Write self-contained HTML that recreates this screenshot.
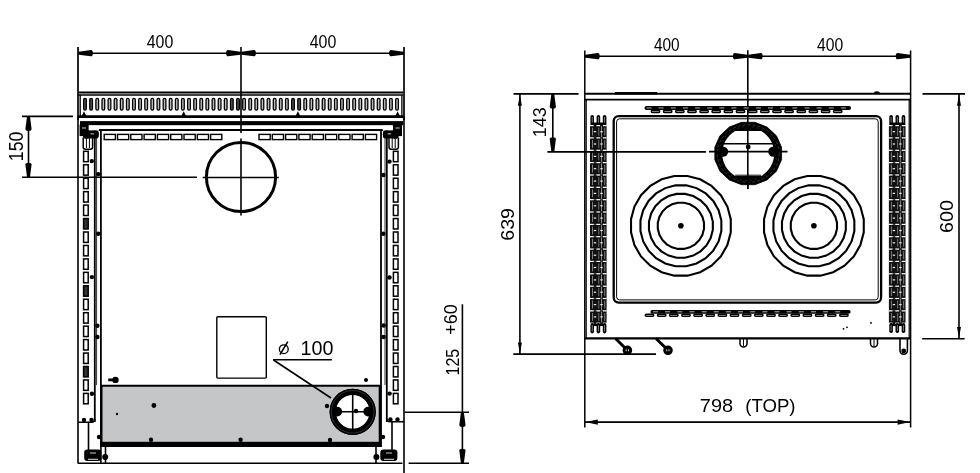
<!DOCTYPE html>
<html><head><meta charset="utf-8"><style>
html,body{margin:0;padding:0;background:#fff;}
body{width:980px;height:473px;overflow:hidden;}
svg{display:block;will-change:transform;}
text{font-family:"Liberation Sans",sans-serif;fill:#000;}
</style></head><body>
<svg width="980" height="473" viewBox="0 0 980 473">
<rect width="980" height="473" fill="#fff"/>
<line x1="78" y1="47" x2="78" y2="120" stroke="#000" stroke-width="1.7"/>
<line x1="241" y1="47" x2="241" y2="133" stroke="#000" stroke-width="1.6"/>
<line x1="404" y1="47" x2="404" y2="120" stroke="#000" stroke-width="1.7"/>
<line x1="78" y1="53.2" x2="404" y2="53.2" stroke="#000" stroke-width="1.6"/>
<path d="M78.5,51.7 L91.0,50.1 A1.8599999999999999,3.1 0 0 1 91.0,56.300000000000004 L78.5,54.7 Z" fill="#000"/>
<path d="M240.5,51.7 L228.0,50.1 A1.8599999999999999,3.1 0 0 0 228.0,56.300000000000004 L240.5,54.7 Z" fill="#000"/>
<path d="M241.5,51.7 L254.0,50.1 A1.8599999999999999,3.1 0 0 1 254.0,56.300000000000004 L241.5,54.7 Z" fill="#000"/>
<path d="M403.5,51.7 L391.0,50.1 A1.8599999999999999,3.1 0 0 0 391.0,56.300000000000004 L403.5,54.7 Z" fill="#000"/>
<text x="146.7" y="47.7" font-size="19" textLength="26.6" lengthAdjust="spacingAndGlyphs">400</text>
<text x="309.7" y="47.7" font-size="19" textLength="26.6" lengthAdjust="spacingAndGlyphs">400</text>
<line x1="22" y1="116.4" x2="73" y2="116.4" stroke="#000" stroke-width="1.6"/>
<line x1="22" y1="177.2" x2="197" y2="177.2" stroke="#000" stroke-width="1.6"/>
<line x1="28.5" y1="116.4" x2="28.5" y2="177.2" stroke="#000" stroke-width="1.6"/>
<path d="M27.0,116.6 L25.4,129.1 A3.1,1.8599999999999999 0 0 0 31.6,129.1 L30.0,116.6 Z" fill="#000"/>
<path d="M27.0,177 L25.4,164.5 A3.1,1.8599999999999999 0 0 1 31.6,164.5 L30.0,177 Z" fill="#000"/>
<text x="23.0" y="161.2" font-size="20.5" textLength="29.5" lengthAdjust="spacingAndGlyphs" transform="rotate(-90 23.0 161.2)">150</text>
<line x1="78" y1="92.45" x2="403" y2="92.45" stroke="#000" stroke-width="1.9"/>
<line x1="78" y1="95" x2="403" y2="95" stroke="#000" stroke-width="1.6"/>
<line x1="80.2" y1="95" x2="80.2" y2="116" stroke="#000" stroke-width="1.3"/>
<line x1="401.9" y1="95" x2="401.9" y2="116" stroke="#000" stroke-width="1.3"/>
<rect x="83.65" y="98.4" width="2.7" height="11.8" rx="1.35" fill="#555" stroke="#000" stroke-width="1.3"/>
<rect x="89.77" y="98.4" width="2.7" height="11.8" rx="1.35" fill="#555" stroke="#000" stroke-width="1.3"/>
<rect x="95.89" y="98.4" width="2.7" height="11.8" rx="1.35" fill="#bbb" stroke="#000" stroke-width="1.3"/>
<rect x="102.00" y="98.4" width="2.7" height="11.8" rx="1.35" fill="#bbb" stroke="#000" stroke-width="1.3"/>
<rect x="108.12" y="98.4" width="2.7" height="11.8" rx="1.35" fill="#bbb" stroke="#000" stroke-width="1.3"/>
<rect x="114.24" y="98.4" width="2.7" height="11.8" rx="1.35" fill="#bbb" stroke="#000" stroke-width="1.3"/>
<rect x="120.36" y="98.4" width="2.7" height="11.8" rx="1.35" fill="#bbb" stroke="#000" stroke-width="1.3"/>
<rect x="126.48" y="98.4" width="2.7" height="11.8" rx="1.35" fill="#bbb" stroke="#000" stroke-width="1.3"/>
<rect x="132.59" y="98.4" width="2.7" height="11.8" rx="1.35" fill="#bbb" stroke="#000" stroke-width="1.3"/>
<rect x="138.71" y="98.4" width="2.7" height="11.8" rx="1.35" fill="#bbb" stroke="#000" stroke-width="1.3"/>
<rect x="144.83" y="98.4" width="2.7" height="11.8" rx="1.35" fill="#bbb" stroke="#000" stroke-width="1.3"/>
<rect x="150.95" y="98.4" width="2.7" height="11.8" rx="1.35" fill="#bbb" stroke="#000" stroke-width="1.3"/>
<rect x="157.07" y="98.4" width="2.7" height="11.8" rx="1.35" fill="#bbb" stroke="#000" stroke-width="1.3"/>
<rect x="163.18" y="98.4" width="2.7" height="11.8" rx="1.35" fill="#bbb" stroke="#000" stroke-width="1.3"/>
<rect x="169.30" y="98.4" width="2.7" height="11.8" rx="1.35" fill="#bbb" stroke="#000" stroke-width="1.3"/>
<rect x="175.42" y="98.4" width="2.7" height="11.8" rx="1.35" fill="#bbb" stroke="#000" stroke-width="1.3"/>
<rect x="181.54" y="98.4" width="2.7" height="11.8" rx="1.35" fill="#bbb" stroke="#000" stroke-width="1.3"/>
<rect x="187.66" y="98.4" width="2.7" height="11.8" rx="1.35" fill="#bbb" stroke="#000" stroke-width="1.3"/>
<rect x="193.77" y="98.4" width="2.7" height="11.8" rx="1.35" fill="#bbb" stroke="#000" stroke-width="1.3"/>
<rect x="199.89" y="98.4" width="2.7" height="11.8" rx="1.35" fill="#bbb" stroke="#000" stroke-width="1.3"/>
<rect x="206.01" y="98.4" width="2.7" height="11.8" rx="1.35" fill="#bbb" stroke="#000" stroke-width="1.3"/>
<rect x="212.13" y="98.4" width="2.7" height="11.8" rx="1.35" fill="#bbb" stroke="#000" stroke-width="1.3"/>
<rect x="218.25" y="98.4" width="2.7" height="11.8" rx="1.35" fill="#bbb" stroke="#000" stroke-width="1.3"/>
<rect x="224.36" y="98.4" width="2.7" height="11.8" rx="1.35" fill="#bbb" stroke="#000" stroke-width="1.3"/>
<rect x="230.48" y="98.4" width="2.7" height="11.8" rx="1.35" fill="#555" stroke="#000" stroke-width="1.3"/>
<rect x="236.60" y="98.4" width="2.7" height="11.8" rx="1.35" fill="#555" stroke="#000" stroke-width="1.3"/>
<rect x="242.72" y="98.4" width="2.7" height="11.8" rx="1.35" fill="#bbb" stroke="#000" stroke-width="1.3"/>
<rect x="248.84" y="98.4" width="2.7" height="11.8" rx="1.35" fill="#bbb" stroke="#000" stroke-width="1.3"/>
<rect x="254.95" y="98.4" width="2.7" height="11.8" rx="1.35" fill="#bbb" stroke="#000" stroke-width="1.3"/>
<rect x="261.07" y="98.4" width="2.7" height="11.8" rx="1.35" fill="#bbb" stroke="#000" stroke-width="1.3"/>
<rect x="267.19" y="98.4" width="2.7" height="11.8" rx="1.35" fill="#bbb" stroke="#000" stroke-width="1.3"/>
<rect x="273.31" y="98.4" width="2.7" height="11.8" rx="1.35" fill="#bbb" stroke="#000" stroke-width="1.3"/>
<rect x="279.43" y="98.4" width="2.7" height="11.8" rx="1.35" fill="#bbb" stroke="#000" stroke-width="1.3"/>
<rect x="285.54" y="98.4" width="2.7" height="11.8" rx="1.35" fill="#bbb" stroke="#000" stroke-width="1.3"/>
<rect x="291.66" y="98.4" width="2.7" height="11.8" rx="1.35" fill="#555" stroke="#000" stroke-width="1.3"/>
<rect x="297.78" y="98.4" width="2.7" height="11.8" rx="1.35" fill="#555" stroke="#000" stroke-width="1.3"/>
<rect x="303.90" y="98.4" width="2.7" height="11.8" rx="1.35" fill="#bbb" stroke="#000" stroke-width="1.3"/>
<rect x="310.02" y="98.4" width="2.7" height="11.8" rx="1.35" fill="#bbb" stroke="#000" stroke-width="1.3"/>
<rect x="316.13" y="98.4" width="2.7" height="11.8" rx="1.35" fill="#bbb" stroke="#000" stroke-width="1.3"/>
<rect x="322.25" y="98.4" width="2.7" height="11.8" rx="1.35" fill="#bbb" stroke="#000" stroke-width="1.3"/>
<rect x="328.37" y="98.4" width="2.7" height="11.8" rx="1.35" fill="#bbb" stroke="#000" stroke-width="1.3"/>
<rect x="334.49" y="98.4" width="2.7" height="11.8" rx="1.35" fill="#bbb" stroke="#000" stroke-width="1.3"/>
<rect x="340.61" y="98.4" width="2.7" height="11.8" rx="1.35" fill="#bbb" stroke="#000" stroke-width="1.3"/>
<rect x="346.72" y="98.4" width="2.7" height="11.8" rx="1.35" fill="#bbb" stroke="#000" stroke-width="1.3"/>
<rect x="352.84" y="98.4" width="2.7" height="11.8" rx="1.35" fill="#bbb" stroke="#000" stroke-width="1.3"/>
<rect x="358.96" y="98.4" width="2.7" height="11.8" rx="1.35" fill="#bbb" stroke="#000" stroke-width="1.3"/>
<rect x="365.08" y="98.4" width="2.7" height="11.8" rx="1.35" fill="#bbb" stroke="#000" stroke-width="1.3"/>
<rect x="371.20" y="98.4" width="2.7" height="11.8" rx="1.35" fill="#bbb" stroke="#000" stroke-width="1.3"/>
<rect x="377.31" y="98.4" width="2.7" height="11.8" rx="1.35" fill="#bbb" stroke="#000" stroke-width="1.3"/>
<rect x="383.43" y="98.4" width="2.7" height="11.8" rx="1.35" fill="#bbb" stroke="#000" stroke-width="1.3"/>
<rect x="389.55" y="98.4" width="2.7" height="11.8" rx="1.35" fill="#bbb" stroke="#000" stroke-width="1.3"/>
<rect x="395.67" y="98.4" width="2.7" height="11.8" rx="1.35" fill="#bbb" stroke="#000" stroke-width="1.3"/>
<line x1="78" y1="116.6" x2="403" y2="116.6" stroke="#000" stroke-width="2.8"/>
<rect x="80" y="121.1" width="323" height="4.1" fill="#000" rx="0"/>
<line x1="98.6" y1="130" x2="383" y2="130" stroke="#000" stroke-width="2.2"/>
<rect x="104.2" y="134.4" width="11.2" height="5.2" fill="none" stroke="#000" stroke-width="1.4" rx="0"/>
<rect x="259.0" y="134.4" width="11.2" height="5.2" fill="none" stroke="#000" stroke-width="1.4" rx="0"/>
<rect x="117.5" y="134.4" width="11.2" height="5.2" fill="none" stroke="#000" stroke-width="1.4" rx="0"/>
<rect x="272.3" y="134.4" width="11.2" height="5.2" fill="none" stroke="#000" stroke-width="1.4" rx="0"/>
<rect x="130.8" y="134.4" width="11.2" height="5.2" fill="none" stroke="#000" stroke-width="1.4" rx="0"/>
<rect x="285.6" y="134.4" width="11.2" height="5.2" fill="none" stroke="#000" stroke-width="1.4" rx="0"/>
<rect x="144.10000000000002" y="134.4" width="11.2" height="5.2" fill="none" stroke="#000" stroke-width="1.4" rx="0"/>
<rect x="298.9" y="134.4" width="11.2" height="5.2" fill="none" stroke="#000" stroke-width="1.4" rx="0"/>
<rect x="157.4" y="134.4" width="11.2" height="5.2" fill="none" stroke="#000" stroke-width="1.4" rx="0"/>
<rect x="312.2" y="134.4" width="11.2" height="5.2" fill="none" stroke="#000" stroke-width="1.4" rx="0"/>
<rect x="170.7" y="134.4" width="11.2" height="5.2" fill="none" stroke="#000" stroke-width="1.4" rx="0"/>
<rect x="325.5" y="134.4" width="11.2" height="5.2" fill="none" stroke="#000" stroke-width="1.4" rx="0"/>
<rect x="184.0" y="134.4" width="11.2" height="5.2" fill="none" stroke="#000" stroke-width="1.4" rx="0"/>
<rect x="338.8" y="134.4" width="11.2" height="5.2" fill="none" stroke="#000" stroke-width="1.4" rx="0"/>
<rect x="197.3" y="134.4" width="11.2" height="5.2" fill="none" stroke="#000" stroke-width="1.4" rx="0"/>
<rect x="352.1" y="134.4" width="11.2" height="5.2" fill="none" stroke="#000" stroke-width="1.4" rx="0"/>
<rect x="210.60000000000002" y="134.4" width="11.2" height="5.2" fill="none" stroke="#000" stroke-width="1.4" rx="0"/>
<rect x="365.4" y="134.4" width="11.2" height="5.2" fill="none" stroke="#000" stroke-width="1.4" rx="0"/>
<polygon points="81.4,116.5 84,111.3 86.6,116.5" fill="#000"/>
<polygon points="181.1,116.5 183.7,111.3 186.29999999999998,116.5" fill="#000"/>
<polygon points="295.29999999999995,116.5 297.9,111.3 300.5,116.5" fill="#000"/>
<polygon points="395.0,116.5 397.6,111.3 400.20000000000005,116.5" fill="#000"/>
<line x1="78" y1="116" x2="78" y2="463.5" stroke="#000" stroke-width="1.6"/>
<line x1="404" y1="116" x2="404" y2="473" stroke="#000" stroke-width="1.6"/>
<line x1="94.8" y1="130" x2="94.8" y2="422" stroke="#000" stroke-width="1.8"/>
<line x1="100.9" y1="130" x2="100.9" y2="447" stroke="#000" stroke-width="1.8"/>
<line x1="381" y1="130" x2="381" y2="447" stroke="#000" stroke-width="1.8"/>
<line x1="386.8" y1="130" x2="386.8" y2="422" stroke="#000" stroke-width="1.8"/>
<path d="M78,422.3 L91.5,422.3 Q94.8,422.3 94.8,419" fill="none" stroke="#000" stroke-width="1.6"/>
<path d="M404,421.8 L390.5,421.8 Q386.8,421.8 386.8,418.5" fill="none" stroke="#000" stroke-width="1.6"/>
<rect x="83.6" y="151.29999999999998" width="4.6" height="10.4" fill="#fff" stroke="#000" stroke-width="1.5" rx="0"/>
<rect x="393.4" y="151.29999999999998" width="4.6" height="10.4" fill="#fff" stroke="#000" stroke-width="1.5" rx="0"/>
<rect x="83.6" y="164.74999999999997" width="4.6" height="10.4" fill="#fff" stroke="#000" stroke-width="1.5" rx="0"/>
<rect x="393.4" y="164.74999999999997" width="4.6" height="10.4" fill="#fff" stroke="#000" stroke-width="1.5" rx="0"/>
<rect x="83.6" y="178.2" width="4.6" height="10.4" fill="#fff" stroke="#000" stroke-width="1.5" rx="0"/>
<rect x="393.4" y="178.2" width="4.6" height="10.4" fill="#fff" stroke="#000" stroke-width="1.5" rx="0"/>
<rect x="83.6" y="191.64999999999998" width="4.6" height="10.4" fill="#fff" stroke="#000" stroke-width="1.5" rx="0"/>
<rect x="393.4" y="191.64999999999998" width="4.6" height="10.4" fill="#fff" stroke="#000" stroke-width="1.5" rx="0"/>
<rect x="83.6" y="205.09999999999997" width="4.6" height="10.4" fill="#fff" stroke="#000" stroke-width="1.5" rx="0"/>
<rect x="393.4" y="205.09999999999997" width="4.6" height="10.4" fill="#fff" stroke="#000" stroke-width="1.5" rx="0"/>
<rect x="83.6" y="218.54999999999998" width="4.6" height="10.4" fill="#333" stroke="#000" stroke-width="1.5" rx="0"/>
<rect x="393.4" y="218.54999999999998" width="4.6" height="10.4" fill="#fff" stroke="#000" stroke-width="1.5" rx="0"/>
<rect x="83.6" y="231.99999999999997" width="4.6" height="10.4" fill="#fff" stroke="#000" stroke-width="1.5" rx="0"/>
<rect x="393.4" y="231.99999999999997" width="4.6" height="10.4" fill="#fff" stroke="#000" stroke-width="1.5" rx="0"/>
<rect x="83.6" y="245.45" width="4.6" height="10.4" fill="#fff" stroke="#000" stroke-width="1.5" rx="0"/>
<rect x="393.4" y="245.45" width="4.6" height="10.4" fill="#fff" stroke="#000" stroke-width="1.5" rx="0"/>
<rect x="83.6" y="258.9" width="4.6" height="10.4" fill="#fff" stroke="#000" stroke-width="1.5" rx="0"/>
<rect x="393.4" y="258.9" width="4.6" height="10.4" fill="#fff" stroke="#000" stroke-width="1.5" rx="0"/>
<rect x="83.6" y="272.34999999999997" width="4.6" height="10.4" fill="#fff" stroke="#000" stroke-width="1.5" rx="0"/>
<rect x="393.4" y="272.34999999999997" width="4.6" height="10.4" fill="#fff" stroke="#000" stroke-width="1.5" rx="0"/>
<rect x="83.6" y="285.8" width="4.6" height="10.4" fill="#333" stroke="#000" stroke-width="1.5" rx="0"/>
<rect x="393.4" y="285.8" width="4.6" height="10.4" fill="#fff" stroke="#000" stroke-width="1.5" rx="0"/>
<rect x="83.6" y="299.24999999999994" width="4.6" height="10.4" fill="#fff" stroke="#000" stroke-width="1.5" rx="0"/>
<rect x="393.4" y="299.24999999999994" width="4.6" height="10.4" fill="#fff" stroke="#000" stroke-width="1.5" rx="0"/>
<rect x="83.6" y="312.7" width="4.6" height="10.4" fill="#fff" stroke="#000" stroke-width="1.5" rx="0"/>
<rect x="393.4" y="312.7" width="4.6" height="10.4" fill="#fff" stroke="#000" stroke-width="1.5" rx="0"/>
<rect x="83.6" y="326.15" width="4.6" height="10.4" fill="#fff" stroke="#000" stroke-width="1.5" rx="0"/>
<rect x="393.4" y="326.15" width="4.6" height="10.4" fill="#fff" stroke="#000" stroke-width="1.5" rx="0"/>
<rect x="83.6" y="339.59999999999997" width="4.6" height="10.4" fill="#fff" stroke="#000" stroke-width="1.5" rx="0"/>
<rect x="393.4" y="339.59999999999997" width="4.6" height="10.4" fill="#fff" stroke="#000" stroke-width="1.5" rx="0"/>
<rect x="83.6" y="353.05" width="4.6" height="10.4" fill="#fff" stroke="#000" stroke-width="1.5" rx="0"/>
<rect x="393.4" y="353.05" width="4.6" height="10.4" fill="#fff" stroke="#000" stroke-width="1.5" rx="0"/>
<rect x="83.6" y="366.49999999999994" width="4.6" height="10.4" fill="#333" stroke="#000" stroke-width="1.5" rx="0"/>
<rect x="393.4" y="366.49999999999994" width="4.6" height="10.4" fill="#fff" stroke="#000" stroke-width="1.5" rx="0"/>
<rect x="83.6" y="379.95" width="4.6" height="10.4" fill="#fff" stroke="#000" stroke-width="1.5" rx="0"/>
<rect x="393.4" y="379.95" width="4.6" height="10.4" fill="#fff" stroke="#000" stroke-width="1.5" rx="0"/>
<rect x="83.6" y="393.4" width="4.6" height="10.4" fill="#fff" stroke="#000" stroke-width="1.5" rx="0"/>
<rect x="393.4" y="393.4" width="4.6" height="10.4" fill="#fff" stroke="#000" stroke-width="1.5" rx="0"/>
<path d="M83.2,137.4 L83.2,147 Q83.2,149.2 85.4,149.2 L90.4,149.2 Q92.60000000000001,149.2 92.60000000000001,147 L92.60000000000001,137.4" fill="#fff" stroke="#000" stroke-width="1.5"/>
<line x1="86.4" y1="138" x2="86.4" y2="148" stroke="#000" stroke-width="1.0"/>
<line x1="89.4" y1="138" x2="89.4" y2="148" stroke="#000" stroke-width="1.0"/>
<path d="M389.0,137.4 L389.0,147 Q389.0,149.2 391.2,149.2 L396.2,149.2 Q398.4,149.2 398.4,147 L398.4,137.4" fill="#fff" stroke="#000" stroke-width="1.5"/>
<line x1="392.2" y1="138" x2="392.2" y2="148" stroke="#000" stroke-width="1.0"/>
<line x1="395.2" y1="138" x2="395.2" y2="148" stroke="#000" stroke-width="1.0"/>
<line x1="96.6" y1="132" x2="96.6" y2="385" stroke="#000" stroke-width="0.8"/>
<line x1="385.0" y1="132" x2="385.0" y2="385" stroke="#000" stroke-width="0.8"/>
<rect x="79.6" y="124.6" width="9.200000000000003" height="11.5" fill="#000" rx="0"/>
<rect x="83.0" y="130.2" width="15.599999999999994" height="8.2" fill="#000" rx="2"/>
<rect x="88.8" y="125.6" width="10.100000000000009" height="4.6" fill="#fff" rx="0"/>
<circle cx="86.5" cy="135.5" r="3.2" fill="#000"/>
<circle cx="96.5" cy="134.5" r="2.4" fill="#000"/>
<rect x="82" y="127.6" width="4" height="0.8" fill="#fff" rx="0"/>
<rect x="90.5" y="133.5" width="3.5" height="0.8" fill="#fff" rx="0"/>
<rect x="392.8" y="124.6" width="9.199999999999989" height="11.5" fill="#000" rx="0"/>
<rect x="383.0" y="130.2" width="15.600000000000023" height="8.2" fill="#000" rx="2"/>
<rect x="382.70000000000005" y="125.6" width="10.099999999999966" height="4.6" fill="#fff" rx="0"/>
<circle cx="395.1" cy="135.5" r="3.2" fill="#000"/>
<circle cx="385.1" cy="134.5" r="2.4" fill="#000"/>
<rect x="395.6" y="127.6" width="4.0" height="0.8" fill="#fff" rx="0"/>
<rect x="387.6" y="133.5" width="3.5" height="0.8" fill="#fff" rx="0"/>
<circle cx="91.8" cy="161.1" r="2.2" fill="#000"/>
<circle cx="98.2" cy="174.1" r="2.2" fill="#000"/>
<circle cx="98.2" cy="233.7" r="2.2" fill="#000"/>
<circle cx="91.9" cy="277.1" r="2.2" fill="#000"/>
<circle cx="97.4" cy="325.7" r="2.2" fill="#000"/>
<circle cx="97.4" cy="337" r="2.2" fill="#000"/>
<circle cx="91.9" cy="393.8" r="2.2" fill="#000"/>
<circle cx="389.5" cy="161.6" r="2.2" fill="#000"/>
<circle cx="383.4" cy="175" r="2.2" fill="#000"/>
<circle cx="383.4" cy="233.7" r="2.2" fill="#000"/>
<circle cx="389.5" cy="277.5" r="2.2" fill="#000"/>
<circle cx="383.7" cy="325.5" r="2.2" fill="#000"/>
<circle cx="383.7" cy="337" r="2.2" fill="#000"/>
<circle cx="389.6" cy="393.6" r="2.2" fill="#000"/>
<circle cx="84" cy="420" r="2.2" fill="#000"/>
<circle cx="91.5" cy="420" r="2.2" fill="#000"/>
<circle cx="390.4" cy="419.4" r="2.2" fill="#000"/>
<circle cx="397.5" cy="419.4" r="2.2" fill="#000"/>
<circle cx="383" cy="437" r="2.2" fill="#000"/>
<circle cx="99" cy="437" r="2.2" fill="#000"/>
<circle cx="241" cy="177" r="34.6" fill="none" stroke="#000" stroke-width="3.0"/>
<line x1="202.7" y1="177.5" x2="278.8" y2="177.5" stroke="#000" stroke-width="1.6"/>
<line x1="241" y1="138.5" x2="241" y2="215.6" stroke="#000" stroke-width="1.6"/>
<rect x="216.8" y="316.8" width="49.5" height="61.3" fill="none" stroke="#000" stroke-width="1.4" rx="1"/>
<rect x="100.9" y="385.7" width="279.5" height="56.5" fill="#c5c6c8" rx="0"/>
<line x1="100.9" y1="385.7" x2="380.4" y2="385.7" stroke="#000" stroke-width="2.0"/>
<line x1="380" y1="385" x2="380" y2="447" stroke="#000" stroke-width="2.6"/>
<line x1="101.3" y1="385" x2="101.3" y2="447" stroke="#000" stroke-width="2.4"/>
<rect x="100.9" y="441.8" width="279.5" height="5.2" fill="#000" rx="0"/>
<circle cx="153.9" cy="405.5" r="2.4" fill="#000"/>
<circle cx="151" cy="439.7" r="2.2" fill="#000"/>
<circle cx="240.6" cy="439.7" r="2.2" fill="#000"/>
<circle cx="327" cy="406" r="2.2" fill="#000"/>
<circle cx="330" cy="440" r="2.2" fill="#000"/>
<circle cx="366" cy="380" r="2.0" fill="#000"/>
<circle cx="117" cy="414" r="1.2" fill="#000"/>
<circle cx="115.5" cy="379.9" r="3.2" fill="#000"/>
<line x1="108.2" y1="379.9" x2="114" y2="379.9" stroke="#000" stroke-width="2.8"/>
<line x1="78" y1="463.3" x2="402.4" y2="463.3" stroke="#000" stroke-width="1.6"/>
<line x1="100.9" y1="447" x2="100.9" y2="463" stroke="#000" stroke-width="1.6"/>
<line x1="105.5" y1="447" x2="105.5" y2="463" stroke="#000" stroke-width="1.6"/>
<line x1="88.5" y1="422" x2="88.5" y2="452" stroke="#000" stroke-width="1.6"/>
<line x1="392" y1="422" x2="392" y2="452" stroke="#000" stroke-width="1.6"/>
<line x1="376" y1="447" x2="376" y2="463" stroke="#000" stroke-width="1.6"/>
<rect x="84.2" y="449.5" width="17.1" height="11.5" fill="#000" rx="3"/>
<rect x="380.3" y="449.5" width="17.1" height="11.5" fill="#000" rx="3"/>
<line x1="88" y1="459.3" x2="98" y2="459.3" stroke="#fff" stroke-width="0.9"/>
<line x1="384" y1="459.3" x2="394" y2="459.3" stroke="#fff" stroke-width="0.9"/>
<line x1="90" y1="453" x2="96" y2="453" stroke="#fff" stroke-width="0.8"/>
<line x1="386" y1="453" x2="392" y2="453" stroke="#fff" stroke-width="0.8"/>
<circle cx="105.2" cy="457.1" r="3.0" fill="#000"/>
<circle cx="376.4" cy="457.1" r="3.0" fill="#000"/>
<circle cx="352.7" cy="411.8" r="20" fill="none" stroke="#000" stroke-width="6.2"/>
<circle cx="352.7" cy="411.8" r="17" fill="#fff"/>
<circle cx="352.7" cy="411.8" r="20" fill="none" stroke="#000" stroke-width="6.2"/>
<line x1="334" y1="411.8" x2="371" y2="411.8" stroke="#000" stroke-width="1.6"/>
<line x1="352.7" y1="394" x2="352.7" y2="430" stroke="#000" stroke-width="1.6"/>
<circle cx="337.3" cy="411.6" r="4.8" fill="#000"/>
<circle cx="368.1" cy="411.6" r="4.8" fill="#000"/>
<circle cx="356" cy="411" r="2.2" fill="#000"/>
<circle cx="352.7" cy="411.8" r="21.3" fill="none" stroke="#fff" stroke-width="0.6" opacity="0.3"/>
<line x1="273" y1="359.8" x2="331.8" y2="359.8" stroke="#000" stroke-width="1.5"/>
<line x1="273.5" y1="360" x2="331" y2="398" stroke="#000" stroke-width="1.6"/>
<circle cx="283.8" cy="349.2" r="4.4" fill="none" stroke="#000" stroke-width="1.35"/>
<line x1="287.8" y1="341.6" x2="280.0" y2="354.6" stroke="#000" stroke-width="1.6"/>
<text x="300.6" y="354.5" font-size="19.5" textLength="33" lengthAdjust="spacingAndGlyphs">100</text>
<line x1="404.5" y1="412.3" x2="469" y2="412.3" stroke="#000" stroke-width="1.6"/>
<line x1="408.6" y1="463.3" x2="469" y2="463.3" stroke="#000" stroke-width="1.6"/>
<line x1="462.4" y1="304.3" x2="462.4" y2="463.3" stroke="#000" stroke-width="1.6"/>
<path d="M460.9,412.6 L459.29999999999995,425.1 A3.1,1.8599999999999999 0 0 0 465.5,425.1 L463.9,412.6 Z" fill="#000"/>
<path d="M460.9,463 L459.29999999999995,450.5 A3.1,1.8599999999999999 0 0 1 465.5,450.5 L463.9,463 Z" fill="#000"/>
<text x="458.8" y="375.5" font-size="19" textLength="26.7" lengthAdjust="spacingAndGlyphs" transform="rotate(-90 458.8 375.5)">125</text>
<text x="457" y="334.8" font-size="19" textLength="30.5" lengthAdjust="spacingAndGlyphs" transform="rotate(-90 457 334.8)">+60</text>
<line x1="584.8" y1="50.5" x2="584.8" y2="427.5" stroke="#000" stroke-width="1.5"/>
<line x1="747.8" y1="50.2" x2="747.8" y2="189" stroke="#000" stroke-width="1.6"/>
<line x1="910.6" y1="50.5" x2="910.6" y2="427.5" stroke="#000" stroke-width="1.5"/>
<line x1="584.8" y1="56.2" x2="910.6" y2="56.2" stroke="#000" stroke-width="1.6"/>
<path d="M585.3,54.7 L597.8,53.1 A1.8599999999999999,3.1 0 0 1 597.8,59.300000000000004 L585.3,57.7 Z" fill="#000"/>
<path d="M747.3,54.7 L734.8,53.1 A1.8599999999999999,3.1 0 0 0 734.8,59.300000000000004 L747.3,57.7 Z" fill="#000"/>
<path d="M748.3,54.7 L760.8,53.1 A1.8599999999999999,3.1 0 0 1 760.8,59.300000000000004 L748.3,57.7 Z" fill="#000"/>
<path d="M910.1,54.7 L897.6,53.1 A1.8599999999999999,3.1 0 0 0 897.6,59.300000000000004 L910.1,57.7 Z" fill="#000"/>
<text x="654" y="50.8" font-size="18" textLength="25.7" lengthAdjust="spacingAndGlyphs">400</text>
<text x="817" y="50.8" font-size="18" textLength="26.2" lengthAdjust="spacingAndGlyphs">400</text>
<line x1="584.8" y1="93.7" x2="910.6" y2="93.7" stroke="#000" stroke-width="2.0"/>
<rect x="614.9" y="92.0" width="42.3" height="2.6" fill="#000" rx="0"/>
<line x1="584.8" y1="99.7" x2="910.6" y2="99.7" stroke="#000" stroke-width="1.8"/>
<line x1="584.8" y1="338.4" x2="910.6" y2="338.4" stroke="#000" stroke-width="2.2"/>
<line x1="586.2" y1="100" x2="586.2" y2="338" stroke="#000" stroke-width="1.2"/>
<line x1="909.2" y1="100" x2="909.2" y2="338" stroke="#000" stroke-width="1.2"/>
<path d="M876.9,93.5 m-3,0 a3,2.2 0 0 1 6,0 z" fill="#000"/>
<rect x="613.7" y="116.2" width="267.4" height="186.4" fill="none" stroke="#000" stroke-width="2.3" rx="5"/>
<rect x="616.6" y="118.8" width="261.6" height="181.1" fill="none" stroke="#000" stroke-width="1.0" rx="3"/>
<rect x="644.5" y="106.1" width="206.5" height="3.8" rx="1.9" fill="#000"/>
<rect x="651.3" y="110.6" width="8.4" height="1.9" rx="0.95" fill="#fff" stroke="#000" stroke-width="1.5"/>
<rect x="663.5" y="110.6" width="8.4" height="1.9" rx="0.95" fill="#fff" stroke="#000" stroke-width="1.5"/>
<rect x="675.6" y="110.6" width="8.4" height="1.9" rx="0.95" fill="#fff" stroke="#000" stroke-width="1.5"/>
<rect x="687.8" y="110.6" width="8.4" height="1.9" rx="0.95" fill="#fff" stroke="#000" stroke-width="1.5"/>
<rect x="699.9" y="110.6" width="8.4" height="1.9" rx="0.95" fill="#fff" stroke="#000" stroke-width="1.5"/>
<rect x="712.0" y="110.6" width="8.4" height="1.9" rx="0.95" fill="#fff" stroke="#000" stroke-width="1.5"/>
<rect x="724.2" y="110.6" width="8.4" height="1.9" rx="0.95" fill="#fff" stroke="#000" stroke-width="1.5"/>
<rect x="736.3" y="110.6" width="8.4" height="1.9" rx="0.95" fill="#fff" stroke="#000" stroke-width="1.5"/>
<rect x="748.5" y="110.6" width="8.4" height="1.9" rx="0.95" fill="#fff" stroke="#000" stroke-width="1.5"/>
<rect x="760.6" y="110.6" width="8.4" height="1.9" rx="0.95" fill="#fff" stroke="#000" stroke-width="1.5"/>
<rect x="772.8" y="110.6" width="8.4" height="1.9" rx="0.95" fill="#fff" stroke="#000" stroke-width="1.5"/>
<rect x="784.9" y="110.6" width="8.4" height="1.9" rx="0.95" fill="#fff" stroke="#000" stroke-width="1.5"/>
<rect x="797.1" y="110.6" width="8.4" height="1.9" rx="0.95" fill="#fff" stroke="#000" stroke-width="1.5"/>
<rect x="809.2" y="110.6" width="8.4" height="1.9" rx="0.95" fill="#fff" stroke="#000" stroke-width="1.5"/>
<rect x="821.4" y="110.6" width="8.4" height="1.9" rx="0.95" fill="#fff" stroke="#000" stroke-width="1.5"/>
<rect x="833.5" y="110.6" width="8.4" height="1.9" rx="0.95" fill="#fff" stroke="#000" stroke-width="1.5"/>
<rect x="646.5" y="107.6" width="5" height="0.7" fill="#fff"/>
<rect x="658.6" y="107.6" width="5" height="0.7" fill="#fff"/>
<rect x="670.8" y="107.6" width="5" height="0.7" fill="#fff"/>
<rect x="683.0" y="107.6" width="5" height="0.7" fill="#fff"/>
<rect x="695.1" y="107.6" width="5" height="0.7" fill="#fff"/>
<rect x="707.2" y="107.6" width="5" height="0.7" fill="#fff"/>
<rect x="719.4" y="107.6" width="5" height="0.7" fill="#fff"/>
<rect x="731.5" y="107.6" width="5" height="0.7" fill="#fff"/>
<rect x="743.7" y="107.6" width="5" height="0.7" fill="#fff"/>
<rect x="755.9" y="107.6" width="5" height="0.7" fill="#fff"/>
<rect x="768.0" y="107.6" width="5" height="0.7" fill="#fff"/>
<rect x="780.1" y="107.6" width="5" height="0.7" fill="#fff"/>
<rect x="792.3" y="107.6" width="5" height="0.7" fill="#fff"/>
<rect x="804.5" y="107.6" width="5" height="0.7" fill="#fff"/>
<rect x="816.6" y="107.6" width="5" height="0.7" fill="#fff"/>
<rect x="828.8" y="107.6" width="5" height="0.7" fill="#fff"/>
<rect x="840.9" y="107.6" width="5" height="0.7" fill="#fff"/>
<rect x="650.4" y="310.1" width="200.2" height="3.6" rx="1.8" fill="#000"/>
<rect x="645.3" y="314.3" width="8.4" height="2.0" rx="1.0" fill="#fff" stroke="#000" stroke-width="1.5"/>
<rect x="657.5" y="314.3" width="8.4" height="2.0" rx="1.0" fill="#fff" stroke="#000" stroke-width="1.5"/>
<rect x="669.6" y="314.3" width="8.4" height="2.0" rx="1.0" fill="#fff" stroke="#000" stroke-width="1.5"/>
<rect x="681.8" y="314.3" width="8.4" height="2.0" rx="1.0" fill="#fff" stroke="#000" stroke-width="1.5"/>
<rect x="693.9" y="314.3" width="8.4" height="2.0" rx="1.0" fill="#fff" stroke="#000" stroke-width="1.5"/>
<rect x="706.0" y="314.3" width="8.4" height="2.0" rx="1.0" fill="#fff" stroke="#000" stroke-width="1.5"/>
<rect x="718.2" y="314.3" width="8.4" height="2.0" rx="1.0" fill="#fff" stroke="#000" stroke-width="1.5"/>
<rect x="730.3" y="314.3" width="8.4" height="2.0" rx="1.0" fill="#fff" stroke="#000" stroke-width="1.5"/>
<rect x="742.5" y="314.3" width="8.4" height="2.0" rx="1.0" fill="#fff" stroke="#000" stroke-width="1.5"/>
<rect x="754.6" y="314.3" width="8.4" height="2.0" rx="1.0" fill="#fff" stroke="#000" stroke-width="1.5"/>
<rect x="766.8" y="314.3" width="8.4" height="2.0" rx="1.0" fill="#fff" stroke="#000" stroke-width="1.5"/>
<rect x="778.9" y="314.3" width="8.4" height="2.0" rx="1.0" fill="#fff" stroke="#000" stroke-width="1.5"/>
<rect x="791.1" y="314.3" width="8.4" height="2.0" rx="1.0" fill="#fff" stroke="#000" stroke-width="1.5"/>
<rect x="803.2" y="314.3" width="8.4" height="2.0" rx="1.0" fill="#fff" stroke="#000" stroke-width="1.5"/>
<rect x="815.4" y="314.3" width="8.4" height="2.0" rx="1.0" fill="#fff" stroke="#000" stroke-width="1.5"/>
<rect x="827.5" y="314.3" width="8.4" height="2.0" rx="1.0" fill="#fff" stroke="#000" stroke-width="1.5"/>
<rect x="839.7" y="314.3" width="8.4" height="2.0" rx="1.0" fill="#fff" stroke="#000" stroke-width="1.5"/>
<rect x="653.0" y="311.5" width="5" height="0.7" fill="#fff"/>
<rect x="665.1" y="311.5" width="5" height="0.7" fill="#fff"/>
<rect x="677.3" y="311.5" width="5" height="0.7" fill="#fff"/>
<rect x="689.5" y="311.5" width="5" height="0.7" fill="#fff"/>
<rect x="701.6" y="311.5" width="5" height="0.7" fill="#fff"/>
<rect x="713.8" y="311.5" width="5" height="0.7" fill="#fff"/>
<rect x="725.9" y="311.5" width="5" height="0.7" fill="#fff"/>
<rect x="738.0" y="311.5" width="5" height="0.7" fill="#fff"/>
<rect x="750.2" y="311.5" width="5" height="0.7" fill="#fff"/>
<rect x="762.4" y="311.5" width="5" height="0.7" fill="#fff"/>
<rect x="774.5" y="311.5" width="5" height="0.7" fill="#fff"/>
<rect x="786.6" y="311.5" width="5" height="0.7" fill="#fff"/>
<rect x="798.8" y="311.5" width="5" height="0.7" fill="#fff"/>
<rect x="811.0" y="311.5" width="5" height="0.7" fill="#fff"/>
<rect x="823.1" y="311.5" width="5" height="0.7" fill="#fff"/>
<rect x="835.2" y="311.5" width="5" height="0.7" fill="#fff"/>
<rect x="590.4" y="115.0" width="3.6" height="11" rx="1.8" fill="#000"/>
<rect x="591.8" y="117.0" width="0.8" height="6" fill="#999"/>
<rect x="596.6" y="115.0" width="3.6" height="11" rx="1.8" fill="#000"/>
<rect x="598.0" y="117.0" width="0.8" height="6" fill="#999"/>
<rect x="602.8" y="115.0" width="3.6" height="11" rx="1.8" fill="#000"/>
<rect x="604.2" y="117.0" width="0.8" height="6" fill="#999"/>
<rect x="591.0" y="122.5" width="14.6" height="3.5" fill="#000"/>
<rect x="590.0" y="125.5" width="16.6" height="12.35" fill="#111"/>
<rect x="590.0" y="125.0" width="3.7" height="1.2" fill="#fff"/>
<rect x="596.4" y="125.0" width="3.7" height="1.2" fill="#fff"/>
<rect x="602.9" y="125.0" width="3.7" height="1.2" fill="#fff"/>
<rect x="592.0" y="127.7" width="0.8" height="7.9" fill="#999"/>
<rect x="598.4" y="127.7" width="0.8" height="7.9" fill="#888"/>
<rect x="604.4" y="127.7" width="0.8" height="7.9" fill="#999"/>
<rect x="601.0" y="126.2" width="0.7" height="10.9" fill="#bbb"/>
<rect x="593.8" y="131.1" width="2.4" height="1.2" fill="#eee"/>
<rect x="600.3" y="131.1" width="2.4" height="1.2" fill="#eee"/>
<rect x="590.0" y="137.8" width="16.6" height="12.35" fill="#111"/>
<rect x="590.0" y="137.3" width="3.7" height="1.2" fill="#fff"/>
<rect x="596.4" y="137.3" width="3.7" height="1.2" fill="#fff"/>
<rect x="602.9" y="137.3" width="3.7" height="1.2" fill="#fff"/>
<rect x="592.0" y="140.0" width="0.8" height="7.9" fill="#999"/>
<rect x="598.4" y="140.0" width="0.8" height="7.9" fill="#888"/>
<rect x="604.4" y="140.0" width="0.8" height="7.9" fill="#999"/>
<rect x="601.0" y="138.5" width="0.7" height="10.9" fill="#bbb"/>
<rect x="593.8" y="143.4" width="2.4" height="1.2" fill="#eee"/>
<rect x="600.3" y="143.4" width="2.4" height="1.2" fill="#eee"/>
<rect x="590.0" y="150.2" width="16.6" height="12.35" fill="#111"/>
<rect x="590.0" y="149.7" width="3.7" height="1.2" fill="#fff"/>
<rect x="596.4" y="149.7" width="3.7" height="1.2" fill="#fff"/>
<rect x="602.9" y="149.7" width="3.7" height="1.2" fill="#fff"/>
<rect x="592.0" y="152.4" width="0.8" height="7.9" fill="#999"/>
<rect x="598.4" y="152.4" width="0.8" height="7.9" fill="#888"/>
<rect x="604.4" y="152.4" width="0.8" height="7.9" fill="#999"/>
<rect x="601.0" y="150.9" width="0.7" height="10.9" fill="#bbb"/>
<rect x="593.8" y="155.8" width="2.4" height="1.2" fill="#eee"/>
<rect x="600.3" y="155.8" width="2.4" height="1.2" fill="#eee"/>
<rect x="590.0" y="162.5" width="16.6" height="12.35" fill="#111"/>
<rect x="590.0" y="162.0" width="3.7" height="1.2" fill="#fff"/>
<rect x="596.4" y="162.0" width="3.7" height="1.2" fill="#fff"/>
<rect x="602.9" y="162.0" width="3.7" height="1.2" fill="#fff"/>
<rect x="592.0" y="164.7" width="0.8" height="7.9" fill="#999"/>
<rect x="598.4" y="164.7" width="0.8" height="7.9" fill="#888"/>
<rect x="604.4" y="164.7" width="0.8" height="7.9" fill="#999"/>
<rect x="601.0" y="163.2" width="0.7" height="10.9" fill="#bbb"/>
<rect x="593.8" y="168.1" width="2.4" height="1.2" fill="#eee"/>
<rect x="600.3" y="168.1" width="2.4" height="1.2" fill="#eee"/>
<rect x="590.0" y="174.9" width="16.6" height="12.35" fill="#111"/>
<rect x="590.0" y="174.4" width="3.7" height="1.2" fill="#fff"/>
<rect x="596.4" y="174.4" width="3.7" height="1.2" fill="#fff"/>
<rect x="602.9" y="174.4" width="3.7" height="1.2" fill="#fff"/>
<rect x="592.0" y="177.1" width="0.8" height="7.9" fill="#999"/>
<rect x="598.4" y="177.1" width="0.8" height="7.9" fill="#888"/>
<rect x="604.4" y="177.1" width="0.8" height="7.9" fill="#999"/>
<rect x="601.0" y="175.6" width="0.7" height="10.9" fill="#bbb"/>
<rect x="593.8" y="180.5" width="2.4" height="1.2" fill="#eee"/>
<rect x="600.3" y="180.5" width="2.4" height="1.2" fill="#eee"/>
<rect x="590.0" y="187.2" width="16.6" height="12.35" fill="#111"/>
<rect x="590.0" y="186.7" width="3.7" height="1.2" fill="#fff"/>
<rect x="596.4" y="186.7" width="3.7" height="1.2" fill="#fff"/>
<rect x="602.9" y="186.7" width="3.7" height="1.2" fill="#fff"/>
<rect x="592.0" y="189.4" width="0.8" height="7.9" fill="#999"/>
<rect x="598.4" y="189.4" width="0.8" height="7.9" fill="#888"/>
<rect x="604.4" y="189.4" width="0.8" height="7.9" fill="#999"/>
<rect x="601.0" y="187.9" width="0.7" height="10.9" fill="#bbb"/>
<rect x="593.8" y="192.8" width="2.4" height="1.2" fill="#eee"/>
<rect x="600.3" y="192.8" width="2.4" height="1.2" fill="#eee"/>
<rect x="590.0" y="199.6" width="16.6" height="12.35" fill="#111"/>
<rect x="590.0" y="199.1" width="3.7" height="1.2" fill="#fff"/>
<rect x="596.4" y="199.1" width="3.7" height="1.2" fill="#fff"/>
<rect x="602.9" y="199.1" width="3.7" height="1.2" fill="#fff"/>
<rect x="592.0" y="201.8" width="0.8" height="7.9" fill="#999"/>
<rect x="598.4" y="201.8" width="0.8" height="7.9" fill="#888"/>
<rect x="604.4" y="201.8" width="0.8" height="7.9" fill="#999"/>
<rect x="601.0" y="200.3" width="0.7" height="10.9" fill="#bbb"/>
<rect x="593.8" y="205.2" width="2.4" height="1.2" fill="#eee"/>
<rect x="600.3" y="205.2" width="2.4" height="1.2" fill="#eee"/>
<rect x="590.0" y="211.9" width="16.6" height="12.35" fill="#111"/>
<rect x="590.0" y="211.4" width="3.7" height="1.2" fill="#fff"/>
<rect x="596.4" y="211.4" width="3.7" height="1.2" fill="#fff"/>
<rect x="602.9" y="211.4" width="3.7" height="1.2" fill="#fff"/>
<rect x="592.0" y="214.1" width="0.8" height="7.9" fill="#999"/>
<rect x="598.4" y="214.1" width="0.8" height="7.9" fill="#888"/>
<rect x="604.4" y="214.1" width="0.8" height="7.9" fill="#999"/>
<rect x="601.0" y="212.6" width="0.7" height="10.9" fill="#bbb"/>
<rect x="593.8" y="217.5" width="2.4" height="1.2" fill="#eee"/>
<rect x="600.3" y="217.5" width="2.4" height="1.2" fill="#eee"/>
<rect x="590.0" y="224.3" width="16.6" height="12.35" fill="#111"/>
<rect x="590.0" y="223.8" width="3.7" height="1.2" fill="#fff"/>
<rect x="596.4" y="223.8" width="3.7" height="1.2" fill="#fff"/>
<rect x="602.9" y="223.8" width="3.7" height="1.2" fill="#fff"/>
<rect x="592.0" y="226.5" width="0.8" height="7.9" fill="#999"/>
<rect x="598.4" y="226.5" width="0.8" height="7.9" fill="#888"/>
<rect x="604.4" y="226.5" width="0.8" height="7.9" fill="#999"/>
<rect x="601.0" y="225.0" width="0.7" height="10.9" fill="#bbb"/>
<rect x="593.8" y="229.9" width="2.4" height="1.2" fill="#eee"/>
<rect x="600.3" y="229.9" width="2.4" height="1.2" fill="#eee"/>
<rect x="590.0" y="236.6" width="16.6" height="12.35" fill="#111"/>
<rect x="590.0" y="236.1" width="3.7" height="1.2" fill="#fff"/>
<rect x="596.4" y="236.1" width="3.7" height="1.2" fill="#fff"/>
<rect x="602.9" y="236.1" width="3.7" height="1.2" fill="#fff"/>
<rect x="592.0" y="238.8" width="0.8" height="7.9" fill="#999"/>
<rect x="598.4" y="238.8" width="0.8" height="7.9" fill="#888"/>
<rect x="604.4" y="238.8" width="0.8" height="7.9" fill="#999"/>
<rect x="601.0" y="237.3" width="0.7" height="10.9" fill="#bbb"/>
<rect x="593.8" y="242.2" width="2.4" height="1.2" fill="#eee"/>
<rect x="600.3" y="242.2" width="2.4" height="1.2" fill="#eee"/>
<rect x="590.0" y="249.0" width="16.6" height="12.35" fill="#111"/>
<rect x="590.0" y="248.5" width="3.7" height="1.2" fill="#fff"/>
<rect x="596.4" y="248.5" width="3.7" height="1.2" fill="#fff"/>
<rect x="602.9" y="248.5" width="3.7" height="1.2" fill="#fff"/>
<rect x="592.0" y="251.2" width="0.8" height="7.9" fill="#999"/>
<rect x="598.4" y="251.2" width="0.8" height="7.9" fill="#888"/>
<rect x="604.4" y="251.2" width="0.8" height="7.9" fill="#999"/>
<rect x="601.0" y="249.7" width="0.7" height="10.9" fill="#bbb"/>
<rect x="593.8" y="254.6" width="2.4" height="1.2" fill="#eee"/>
<rect x="600.3" y="254.6" width="2.4" height="1.2" fill="#eee"/>
<rect x="590.0" y="261.3" width="16.6" height="12.35" fill="#111"/>
<rect x="590.0" y="260.8" width="3.7" height="1.2" fill="#fff"/>
<rect x="596.4" y="260.8" width="3.7" height="1.2" fill="#fff"/>
<rect x="602.9" y="260.8" width="3.7" height="1.2" fill="#fff"/>
<rect x="592.0" y="263.5" width="0.8" height="7.9" fill="#999"/>
<rect x="598.4" y="263.5" width="0.8" height="7.9" fill="#888"/>
<rect x="604.4" y="263.5" width="0.8" height="7.9" fill="#999"/>
<rect x="601.0" y="262.0" width="0.7" height="10.9" fill="#bbb"/>
<rect x="593.8" y="266.9" width="2.4" height="1.2" fill="#eee"/>
<rect x="600.3" y="266.9" width="2.4" height="1.2" fill="#eee"/>
<rect x="590.0" y="273.7" width="16.6" height="12.35" fill="#111"/>
<rect x="590.0" y="273.2" width="3.7" height="1.2" fill="#fff"/>
<rect x="596.4" y="273.2" width="3.7" height="1.2" fill="#fff"/>
<rect x="602.9" y="273.2" width="3.7" height="1.2" fill="#fff"/>
<rect x="592.0" y="275.9" width="0.8" height="7.9" fill="#999"/>
<rect x="598.4" y="275.9" width="0.8" height="7.9" fill="#888"/>
<rect x="604.4" y="275.9" width="0.8" height="7.9" fill="#999"/>
<rect x="601.0" y="274.4" width="0.7" height="10.9" fill="#bbb"/>
<rect x="593.8" y="279.3" width="2.4" height="1.2" fill="#eee"/>
<rect x="600.3" y="279.3" width="2.4" height="1.2" fill="#eee"/>
<rect x="590.0" y="286.1" width="16.6" height="12.35" fill="#111"/>
<rect x="590.0" y="285.6" width="3.7" height="1.2" fill="#fff"/>
<rect x="596.4" y="285.6" width="3.7" height="1.2" fill="#fff"/>
<rect x="602.9" y="285.6" width="3.7" height="1.2" fill="#fff"/>
<rect x="592.0" y="288.2" width="0.8" height="7.9" fill="#999"/>
<rect x="598.4" y="288.2" width="0.8" height="7.9" fill="#888"/>
<rect x="604.4" y="288.2" width="0.8" height="7.9" fill="#999"/>
<rect x="601.0" y="286.8" width="0.7" height="10.9" fill="#bbb"/>
<rect x="593.8" y="291.6" width="2.4" height="1.2" fill="#eee"/>
<rect x="600.3" y="291.6" width="2.4" height="1.2" fill="#eee"/>
<rect x="590.0" y="298.4" width="16.6" height="12.35" fill="#111"/>
<rect x="590.0" y="297.9" width="3.7" height="1.2" fill="#fff"/>
<rect x="596.4" y="297.9" width="3.7" height="1.2" fill="#fff"/>
<rect x="602.9" y="297.9" width="3.7" height="1.2" fill="#fff"/>
<rect x="592.0" y="300.6" width="0.8" height="7.9" fill="#999"/>
<rect x="598.4" y="300.6" width="0.8" height="7.9" fill="#888"/>
<rect x="604.4" y="300.6" width="0.8" height="7.9" fill="#999"/>
<rect x="601.0" y="299.1" width="0.7" height="10.9" fill="#bbb"/>
<rect x="593.8" y="304.0" width="2.4" height="1.2" fill="#eee"/>
<rect x="600.3" y="304.0" width="2.4" height="1.2" fill="#eee"/>
<rect x="590.0" y="310.8" width="16.6" height="12.35" fill="#111"/>
<rect x="590.0" y="310.3" width="3.7" height="1.2" fill="#fff"/>
<rect x="596.4" y="310.3" width="3.7" height="1.2" fill="#fff"/>
<rect x="602.9" y="310.3" width="3.7" height="1.2" fill="#fff"/>
<rect x="592.0" y="313.0" width="0.8" height="7.9" fill="#999"/>
<rect x="598.4" y="313.0" width="0.8" height="7.9" fill="#888"/>
<rect x="604.4" y="313.0" width="0.8" height="7.9" fill="#999"/>
<rect x="601.0" y="311.5" width="0.7" height="10.9" fill="#bbb"/>
<rect x="593.8" y="316.3" width="2.4" height="1.2" fill="#eee"/>
<rect x="600.3" y="316.3" width="2.4" height="1.2" fill="#eee"/>
<rect x="591.0" y="323.1" width="14.6" height="3" fill="#000"/>
<rect x="590.0" y="322.6" width="3.7" height="1.2" fill="#fff"/>
<rect x="596.4" y="322.6" width="3.7" height="1.2" fill="#fff"/>
<rect x="602.9" y="322.6" width="3.7" height="1.2" fill="#fff"/>
<rect x="590.4" y="323.1" width="3.6" height="10.3" rx="1.8" fill="#000"/>
<rect x="591.8" y="325.1" width="0.8" height="6.3" fill="#999"/>
<rect x="596.6" y="323.1" width="3.6" height="10.3" rx="1.8" fill="#000"/>
<rect x="598.0" y="325.1" width="0.8" height="6.3" fill="#999"/>
<rect x="602.8" y="323.1" width="3.6" height="10.3" rx="1.8" fill="#000"/>
<rect x="604.2" y="325.1" width="0.8" height="6.3" fill="#999"/>
<rect x="889.3" y="115.0" width="3.6" height="11" rx="1.8" fill="#000"/>
<rect x="890.7" y="117.0" width="0.8" height="6" fill="#999"/>
<rect x="895.5" y="115.0" width="3.6" height="11" rx="1.8" fill="#000"/>
<rect x="896.9" y="117.0" width="0.8" height="6" fill="#999"/>
<rect x="901.7" y="115.0" width="3.6" height="11" rx="1.8" fill="#000"/>
<rect x="903.1" y="117.0" width="0.8" height="6" fill="#999"/>
<rect x="889.9" y="122.5" width="14.6" height="3.5" fill="#000"/>
<rect x="888.9" y="125.5" width="16.6" height="12.35" fill="#111"/>
<rect x="888.9" y="125.0" width="3.7" height="1.2" fill="#fff"/>
<rect x="895.3" y="125.0" width="3.7" height="1.2" fill="#fff"/>
<rect x="901.8" y="125.0" width="3.7" height="1.2" fill="#fff"/>
<rect x="890.9" y="127.7" width="0.8" height="7.9" fill="#999"/>
<rect x="897.3" y="127.7" width="0.8" height="7.9" fill="#888"/>
<rect x="903.3" y="127.7" width="0.8" height="7.9" fill="#999"/>
<rect x="899.9" y="126.2" width="0.7" height="10.9" fill="#bbb"/>
<rect x="892.7" y="131.1" width="2.4" height="1.2" fill="#eee"/>
<rect x="899.2" y="131.1" width="2.4" height="1.2" fill="#eee"/>
<rect x="888.9" y="137.8" width="16.6" height="12.35" fill="#111"/>
<rect x="888.9" y="137.3" width="3.7" height="1.2" fill="#fff"/>
<rect x="895.3" y="137.3" width="3.7" height="1.2" fill="#fff"/>
<rect x="901.8" y="137.3" width="3.7" height="1.2" fill="#fff"/>
<rect x="890.9" y="140.0" width="0.8" height="7.9" fill="#999"/>
<rect x="897.3" y="140.0" width="0.8" height="7.9" fill="#888"/>
<rect x="903.3" y="140.0" width="0.8" height="7.9" fill="#999"/>
<rect x="899.9" y="138.5" width="0.7" height="10.9" fill="#bbb"/>
<rect x="892.7" y="143.4" width="2.4" height="1.2" fill="#eee"/>
<rect x="899.2" y="143.4" width="2.4" height="1.2" fill="#eee"/>
<rect x="888.9" y="150.2" width="16.6" height="12.35" fill="#111"/>
<rect x="888.9" y="149.7" width="3.7" height="1.2" fill="#fff"/>
<rect x="895.3" y="149.7" width="3.7" height="1.2" fill="#fff"/>
<rect x="901.8" y="149.7" width="3.7" height="1.2" fill="#fff"/>
<rect x="890.9" y="152.4" width="0.8" height="7.9" fill="#999"/>
<rect x="897.3" y="152.4" width="0.8" height="7.9" fill="#888"/>
<rect x="903.3" y="152.4" width="0.8" height="7.9" fill="#999"/>
<rect x="899.9" y="150.9" width="0.7" height="10.9" fill="#bbb"/>
<rect x="892.7" y="155.8" width="2.4" height="1.2" fill="#eee"/>
<rect x="899.2" y="155.8" width="2.4" height="1.2" fill="#eee"/>
<rect x="888.9" y="162.5" width="16.6" height="12.35" fill="#111"/>
<rect x="888.9" y="162.0" width="3.7" height="1.2" fill="#fff"/>
<rect x="895.3" y="162.0" width="3.7" height="1.2" fill="#fff"/>
<rect x="901.8" y="162.0" width="3.7" height="1.2" fill="#fff"/>
<rect x="890.9" y="164.7" width="0.8" height="7.9" fill="#999"/>
<rect x="897.3" y="164.7" width="0.8" height="7.9" fill="#888"/>
<rect x="903.3" y="164.7" width="0.8" height="7.9" fill="#999"/>
<rect x="899.9" y="163.2" width="0.7" height="10.9" fill="#bbb"/>
<rect x="892.7" y="168.1" width="2.4" height="1.2" fill="#eee"/>
<rect x="899.2" y="168.1" width="2.4" height="1.2" fill="#eee"/>
<rect x="888.9" y="174.9" width="16.6" height="12.35" fill="#111"/>
<rect x="888.9" y="174.4" width="3.7" height="1.2" fill="#fff"/>
<rect x="895.3" y="174.4" width="3.7" height="1.2" fill="#fff"/>
<rect x="901.8" y="174.4" width="3.7" height="1.2" fill="#fff"/>
<rect x="890.9" y="177.1" width="0.8" height="7.9" fill="#999"/>
<rect x="897.3" y="177.1" width="0.8" height="7.9" fill="#888"/>
<rect x="903.3" y="177.1" width="0.8" height="7.9" fill="#999"/>
<rect x="899.9" y="175.6" width="0.7" height="10.9" fill="#bbb"/>
<rect x="892.7" y="180.5" width="2.4" height="1.2" fill="#eee"/>
<rect x="899.2" y="180.5" width="2.4" height="1.2" fill="#eee"/>
<rect x="888.9" y="187.2" width="16.6" height="12.35" fill="#111"/>
<rect x="888.9" y="186.7" width="3.7" height="1.2" fill="#fff"/>
<rect x="895.3" y="186.7" width="3.7" height="1.2" fill="#fff"/>
<rect x="901.8" y="186.7" width="3.7" height="1.2" fill="#fff"/>
<rect x="890.9" y="189.4" width="0.8" height="7.9" fill="#999"/>
<rect x="897.3" y="189.4" width="0.8" height="7.9" fill="#888"/>
<rect x="903.3" y="189.4" width="0.8" height="7.9" fill="#999"/>
<rect x="899.9" y="187.9" width="0.7" height="10.9" fill="#bbb"/>
<rect x="892.7" y="192.8" width="2.4" height="1.2" fill="#eee"/>
<rect x="899.2" y="192.8" width="2.4" height="1.2" fill="#eee"/>
<rect x="888.9" y="199.6" width="16.6" height="12.35" fill="#111"/>
<rect x="888.9" y="199.1" width="3.7" height="1.2" fill="#fff"/>
<rect x="895.3" y="199.1" width="3.7" height="1.2" fill="#fff"/>
<rect x="901.8" y="199.1" width="3.7" height="1.2" fill="#fff"/>
<rect x="890.9" y="201.8" width="0.8" height="7.9" fill="#999"/>
<rect x="897.3" y="201.8" width="0.8" height="7.9" fill="#888"/>
<rect x="903.3" y="201.8" width="0.8" height="7.9" fill="#999"/>
<rect x="899.9" y="200.3" width="0.7" height="10.9" fill="#bbb"/>
<rect x="892.7" y="205.2" width="2.4" height="1.2" fill="#eee"/>
<rect x="899.2" y="205.2" width="2.4" height="1.2" fill="#eee"/>
<rect x="888.9" y="211.9" width="16.6" height="12.35" fill="#111"/>
<rect x="888.9" y="211.4" width="3.7" height="1.2" fill="#fff"/>
<rect x="895.3" y="211.4" width="3.7" height="1.2" fill="#fff"/>
<rect x="901.8" y="211.4" width="3.7" height="1.2" fill="#fff"/>
<rect x="890.9" y="214.1" width="0.8" height="7.9" fill="#999"/>
<rect x="897.3" y="214.1" width="0.8" height="7.9" fill="#888"/>
<rect x="903.3" y="214.1" width="0.8" height="7.9" fill="#999"/>
<rect x="899.9" y="212.6" width="0.7" height="10.9" fill="#bbb"/>
<rect x="892.7" y="217.5" width="2.4" height="1.2" fill="#eee"/>
<rect x="899.2" y="217.5" width="2.4" height="1.2" fill="#eee"/>
<rect x="888.9" y="224.3" width="16.6" height="12.35" fill="#111"/>
<rect x="888.9" y="223.8" width="3.7" height="1.2" fill="#fff"/>
<rect x="895.3" y="223.8" width="3.7" height="1.2" fill="#fff"/>
<rect x="901.8" y="223.8" width="3.7" height="1.2" fill="#fff"/>
<rect x="890.9" y="226.5" width="0.8" height="7.9" fill="#999"/>
<rect x="897.3" y="226.5" width="0.8" height="7.9" fill="#888"/>
<rect x="903.3" y="226.5" width="0.8" height="7.9" fill="#999"/>
<rect x="899.9" y="225.0" width="0.7" height="10.9" fill="#bbb"/>
<rect x="892.7" y="229.9" width="2.4" height="1.2" fill="#eee"/>
<rect x="899.2" y="229.9" width="2.4" height="1.2" fill="#eee"/>
<rect x="888.9" y="236.6" width="16.6" height="12.35" fill="#111"/>
<rect x="888.9" y="236.1" width="3.7" height="1.2" fill="#fff"/>
<rect x="895.3" y="236.1" width="3.7" height="1.2" fill="#fff"/>
<rect x="901.8" y="236.1" width="3.7" height="1.2" fill="#fff"/>
<rect x="890.9" y="238.8" width="0.8" height="7.9" fill="#999"/>
<rect x="897.3" y="238.8" width="0.8" height="7.9" fill="#888"/>
<rect x="903.3" y="238.8" width="0.8" height="7.9" fill="#999"/>
<rect x="899.9" y="237.3" width="0.7" height="10.9" fill="#bbb"/>
<rect x="892.7" y="242.2" width="2.4" height="1.2" fill="#eee"/>
<rect x="899.2" y="242.2" width="2.4" height="1.2" fill="#eee"/>
<rect x="888.9" y="249.0" width="16.6" height="12.35" fill="#111"/>
<rect x="888.9" y="248.5" width="3.7" height="1.2" fill="#fff"/>
<rect x="895.3" y="248.5" width="3.7" height="1.2" fill="#fff"/>
<rect x="901.8" y="248.5" width="3.7" height="1.2" fill="#fff"/>
<rect x="890.9" y="251.2" width="0.8" height="7.9" fill="#999"/>
<rect x="897.3" y="251.2" width="0.8" height="7.9" fill="#888"/>
<rect x="903.3" y="251.2" width="0.8" height="7.9" fill="#999"/>
<rect x="899.9" y="249.7" width="0.7" height="10.9" fill="#bbb"/>
<rect x="892.7" y="254.6" width="2.4" height="1.2" fill="#eee"/>
<rect x="899.2" y="254.6" width="2.4" height="1.2" fill="#eee"/>
<rect x="888.9" y="261.3" width="16.6" height="12.35" fill="#111"/>
<rect x="888.9" y="260.8" width="3.7" height="1.2" fill="#fff"/>
<rect x="895.3" y="260.8" width="3.7" height="1.2" fill="#fff"/>
<rect x="901.8" y="260.8" width="3.7" height="1.2" fill="#fff"/>
<rect x="890.9" y="263.5" width="0.8" height="7.9" fill="#999"/>
<rect x="897.3" y="263.5" width="0.8" height="7.9" fill="#888"/>
<rect x="903.3" y="263.5" width="0.8" height="7.9" fill="#999"/>
<rect x="899.9" y="262.0" width="0.7" height="10.9" fill="#bbb"/>
<rect x="892.7" y="266.9" width="2.4" height="1.2" fill="#eee"/>
<rect x="899.2" y="266.9" width="2.4" height="1.2" fill="#eee"/>
<rect x="888.9" y="273.7" width="16.6" height="12.35" fill="#111"/>
<rect x="888.9" y="273.2" width="3.7" height="1.2" fill="#fff"/>
<rect x="895.3" y="273.2" width="3.7" height="1.2" fill="#fff"/>
<rect x="901.8" y="273.2" width="3.7" height="1.2" fill="#fff"/>
<rect x="890.9" y="275.9" width="0.8" height="7.9" fill="#999"/>
<rect x="897.3" y="275.9" width="0.8" height="7.9" fill="#888"/>
<rect x="903.3" y="275.9" width="0.8" height="7.9" fill="#999"/>
<rect x="899.9" y="274.4" width="0.7" height="10.9" fill="#bbb"/>
<rect x="892.7" y="279.3" width="2.4" height="1.2" fill="#eee"/>
<rect x="899.2" y="279.3" width="2.4" height="1.2" fill="#eee"/>
<rect x="888.9" y="286.1" width="16.6" height="12.35" fill="#111"/>
<rect x="888.9" y="285.6" width="3.7" height="1.2" fill="#fff"/>
<rect x="895.3" y="285.6" width="3.7" height="1.2" fill="#fff"/>
<rect x="901.8" y="285.6" width="3.7" height="1.2" fill="#fff"/>
<rect x="890.9" y="288.2" width="0.8" height="7.9" fill="#999"/>
<rect x="897.3" y="288.2" width="0.8" height="7.9" fill="#888"/>
<rect x="903.3" y="288.2" width="0.8" height="7.9" fill="#999"/>
<rect x="899.9" y="286.8" width="0.7" height="10.9" fill="#bbb"/>
<rect x="892.7" y="291.6" width="2.4" height="1.2" fill="#eee"/>
<rect x="899.2" y="291.6" width="2.4" height="1.2" fill="#eee"/>
<rect x="888.9" y="298.4" width="16.6" height="12.35" fill="#111"/>
<rect x="888.9" y="297.9" width="3.7" height="1.2" fill="#fff"/>
<rect x="895.3" y="297.9" width="3.7" height="1.2" fill="#fff"/>
<rect x="901.8" y="297.9" width="3.7" height="1.2" fill="#fff"/>
<rect x="890.9" y="300.6" width="0.8" height="7.9" fill="#999"/>
<rect x="897.3" y="300.6" width="0.8" height="7.9" fill="#888"/>
<rect x="903.3" y="300.6" width="0.8" height="7.9" fill="#999"/>
<rect x="899.9" y="299.1" width="0.7" height="10.9" fill="#bbb"/>
<rect x="892.7" y="304.0" width="2.4" height="1.2" fill="#eee"/>
<rect x="899.2" y="304.0" width="2.4" height="1.2" fill="#eee"/>
<rect x="888.9" y="310.8" width="16.6" height="12.35" fill="#111"/>
<rect x="888.9" y="310.3" width="3.7" height="1.2" fill="#fff"/>
<rect x="895.3" y="310.3" width="3.7" height="1.2" fill="#fff"/>
<rect x="901.8" y="310.3" width="3.7" height="1.2" fill="#fff"/>
<rect x="890.9" y="313.0" width="0.8" height="7.9" fill="#999"/>
<rect x="897.3" y="313.0" width="0.8" height="7.9" fill="#888"/>
<rect x="903.3" y="313.0" width="0.8" height="7.9" fill="#999"/>
<rect x="899.9" y="311.5" width="0.7" height="10.9" fill="#bbb"/>
<rect x="892.7" y="316.3" width="2.4" height="1.2" fill="#eee"/>
<rect x="899.2" y="316.3" width="2.4" height="1.2" fill="#eee"/>
<rect x="889.9" y="323.1" width="14.6" height="3" fill="#000"/>
<rect x="888.9" y="322.6" width="3.7" height="1.2" fill="#fff"/>
<rect x="895.3" y="322.6" width="3.7" height="1.2" fill="#fff"/>
<rect x="901.8" y="322.6" width="3.7" height="1.2" fill="#fff"/>
<rect x="889.3" y="323.1" width="3.6" height="10.0" rx="1.8" fill="#000"/>
<rect x="890.7" y="325.1" width="0.8" height="6.0" fill="#999"/>
<rect x="895.5" y="323.1" width="3.6" height="10.0" rx="1.8" fill="#000"/>
<rect x="896.9" y="325.1" width="0.8" height="6.0" fill="#999"/>
<rect x="901.7" y="323.1" width="3.6" height="10.0" rx="1.8" fill="#000"/>
<rect x="903.1" y="325.1" width="0.8" height="6.0" fill="#999"/>
<polygon points="781.55,159.70 776.47,171.17 767.09,179.94 754.83,184.69 741.57,184.69 729.31,179.94 719.93,171.17 714.85,159.70 714.85,147.30 719.93,135.83 729.31,127.06 741.57,122.31 754.83,122.31 767.09,127.06 776.47,135.83 781.55,147.30" fill="#000" stroke="#000" stroke-width="0.8"/>
<ellipse cx="748.2" cy="153.5" rx="31.0" ry="28.8" fill="none" stroke="#fff" stroke-width="0.6" stroke-dasharray="3 2" opacity="0.35"/>
<ellipse cx="748.2" cy="153.5" rx="28.8" ry="27.0" fill="none" stroke="#fff" stroke-width="0.5" stroke-dasharray="2 3" opacity="0.3"/>
<path d="M735.2,131 L761.2,131 A26,26 0 0 1 761.2,176 L735.2,176 A26,26 0 0 1 735.2,131 Z" fill="#fff"/>
<line x1="722" y1="143.8" x2="774.5" y2="143.8" stroke="#000" stroke-width="1.6"/>
<line x1="747.8" y1="125" x2="747.8" y2="189" stroke="#000" stroke-width="1.6"/>
<line x1="735.2" y1="175.2" x2="761.2" y2="175.2" stroke="#000" stroke-width="1.0"/>
<circle cx="748.2" cy="147" r="2.4" fill="#000"/>
<circle cx="723.0" cy="151.6" r="5.2" fill="#000"/>
<circle cx="773.4" cy="151.6" r="5.2" fill="#000"/>
<line x1="709" y1="151.6" x2="787.5" y2="151.6" stroke="#000" stroke-width="1.6"/>
<line x1="547.4" y1="151.9" x2="706" y2="151.9" stroke="#000" stroke-width="1.6"/>
<polygon points="730.77,232.37 727.37,245.05 720.81,256.42 711.52,265.71 700.15,272.27 687.47,275.67 674.33,275.67 661.65,272.27 650.28,265.71 640.99,256.42 634.43,245.05 631.03,232.37 631.03,219.23 634.43,206.55 640.99,195.18 650.28,185.89 661.65,179.33 674.33,175.93 687.47,175.93 700.15,179.33 711.52,185.89 720.81,195.18 727.37,206.55 730.77,219.23" fill="none" stroke="#000" stroke-width="2.1"/>
<polygon points="721.35,231.13 718.59,241.41 713.27,250.64 705.74,258.17 696.51,263.49 686.23,266.25 675.57,266.25 665.29,263.49 656.06,258.17 648.53,250.64 643.21,241.41 640.45,231.13 640.45,220.47 643.21,210.19 648.53,200.96 656.06,193.43 665.29,188.11 675.57,185.35 686.23,185.35 696.51,188.11 705.74,193.43 713.27,200.96 718.59,210.19 721.35,220.47" fill="none" stroke="#000" stroke-width="2.1"/>
<polygon points="712.82,230.00 710.65,238.12 706.45,245.40 700.50,251.35 693.22,255.55 685.10,257.72 676.70,257.72 668.58,255.55 661.30,251.35 655.35,245.40 651.15,238.12 648.98,230.00 648.98,221.60 651.15,213.48 655.35,206.20 661.30,200.25 668.58,196.05 676.70,193.88 685.10,193.88 693.22,196.05 700.50,200.25 706.45,206.20 710.65,213.48 712.82,221.60" fill="none" stroke="#000" stroke-width="2.1"/>
<polygon points="704.00,228.84 702.43,234.72 699.39,239.98 695.08,244.29 689.82,247.33 683.94,248.90 677.86,248.90 671.98,247.33 666.72,244.29 662.41,239.98 659.37,234.72 657.80,228.84 657.80,222.76 659.37,216.88 662.41,211.62 666.72,207.31 671.98,204.27 677.86,202.70 683.94,202.70 689.82,204.27 695.08,207.31 699.39,211.62 702.43,216.88 704.00,222.76" fill="none" stroke="#000" stroke-width="2.1"/>
<circle cx="680.9" cy="225.8" r="2.8" fill="#000"/>
<polygon points="863.77,232.37 860.37,245.05 853.81,256.42 844.52,265.71 833.15,272.27 820.47,275.67 807.33,275.67 794.65,272.27 783.28,265.71 773.99,256.42 767.43,245.05 764.03,232.37 764.03,219.23 767.43,206.55 773.99,195.18 783.28,185.89 794.65,179.33 807.33,175.93 820.47,175.93 833.15,179.33 844.52,185.89 853.81,195.18 860.37,206.55 863.77,219.23" fill="none" stroke="#000" stroke-width="2.1"/>
<polygon points="854.35,231.13 851.59,241.41 846.27,250.64 838.74,258.17 829.51,263.49 819.23,266.25 808.57,266.25 798.29,263.49 789.06,258.17 781.53,250.64 776.21,241.41 773.45,231.13 773.45,220.47 776.21,210.19 781.53,200.96 789.06,193.43 798.29,188.11 808.57,185.35 819.23,185.35 829.51,188.11 838.74,193.43 846.27,200.96 851.59,210.19 854.35,220.47" fill="none" stroke="#000" stroke-width="2.1"/>
<polygon points="845.82,230.00 843.65,238.12 839.45,245.40 833.50,251.35 826.22,255.55 818.10,257.72 809.70,257.72 801.58,255.55 794.30,251.35 788.35,245.40 784.15,238.12 781.98,230.00 781.98,221.60 784.15,213.48 788.35,206.20 794.30,200.25 801.58,196.05 809.70,193.88 818.10,193.88 826.22,196.05 833.50,200.25 839.45,206.20 843.65,213.48 845.82,221.60" fill="none" stroke="#000" stroke-width="2.1"/>
<polygon points="837.00,228.84 835.43,234.72 832.39,239.98 828.08,244.29 822.82,247.33 816.94,248.90 810.86,248.90 804.98,247.33 799.72,244.29 795.41,239.98 792.37,234.72 790.80,228.84 790.80,222.76 792.37,216.88 795.41,211.62 799.72,207.31 804.98,204.27 810.86,202.70 816.94,202.70 822.82,204.27 828.08,207.31 832.39,211.62 835.43,216.88 837.00,222.76" fill="none" stroke="#000" stroke-width="2.1"/>
<circle cx="813.9" cy="225.8" r="2.8" fill="#000"/>
<line x1="513.5" y1="93.9" x2="578.6" y2="93.9" stroke="#000" stroke-width="1.6"/>
<line x1="552.8" y1="93.9" x2="552.8" y2="151.9" stroke="#000" stroke-width="1.6"/>
<path d="M551.3,94.2 L549.6999999999999,106.7 A3.1,1.8599999999999999 0 0 0 555.9,106.7 L554.3,94.2 Z" fill="#000"/>
<path d="M551.3,151.6 L549.6999999999999,139.1 A3.1,1.8599999999999999 0 0 1 555.9,139.1 L554.3,151.6 Z" fill="#000"/>
<text x="546.5" y="137.3" font-size="18.5" textLength="30" lengthAdjust="spacingAndGlyphs" transform="rotate(-90 546.5 137.3)">143</text>
<line x1="519.9" y1="94" x2="519.9" y2="354.2" stroke="#000" stroke-width="1.6"/>
<path d="M519.9,94.8 L517.9,105.8 L521.9,105.8 Z" fill="#000"/>
<path d="M519.9,353.4 L517.9,342.4 L521.9,342.4 Z" fill="#000"/>
<line x1="513.3" y1="354.2" x2="656" y2="354.2" stroke="#000" stroke-width="1.7"/>
<text x="514" y="240.7" font-size="18" textLength="32.7" lengthAdjust="spacingAndGlyphs" transform="rotate(-90 514 240.7)">639</text>
<line x1="922.5" y1="93.9" x2="965" y2="93.9" stroke="#000" stroke-width="1.6"/>
<line x1="922.2" y1="338.7" x2="964.6" y2="338.7" stroke="#000" stroke-width="1.6"/>
<line x1="959" y1="93.9" x2="959" y2="338.7" stroke="#000" stroke-width="1.6"/>
<path d="M959,94.8 L957.0,105.8 L961.0,105.8 Z" fill="#000"/>
<path d="M959,337.9 L957.0,326.9 L961.0,326.9 Z" fill="#000"/>
<text x="953" y="232.9" font-size="18" textLength="32.9" lengthAdjust="spacingAndGlyphs" transform="rotate(-90 953 232.9)">600</text>
<line x1="584.8" y1="422.1" x2="910.6" y2="422.1" stroke="#000" stroke-width="1.7"/>
<path d="M585.3,422.1 L597.8,419.5 L597.8,424.70000000000005 Z" fill="#000"/>
<path d="M910.1,422.1 L897.6,419.5 L897.6,424.70000000000005 Z" fill="#000"/>
<text x="699.8" y="411.8" font-size="19" textLength="33.3" lengthAdjust="spacingAndGlyphs">798</text>
<text x="745.2" y="411.8" font-size="19" textLength="50.3" lengthAdjust="spacingAndGlyphs">(TOP)</text>
<line x1="615.5" y1="338.5" x2="627.4" y2="350.3" stroke="#000" stroke-width="3.0"/>
<circle cx="627.4" cy="350.3" r="3.9" fill="#000" stroke="#000" stroke-width="1.8"/>
<rect x="625.8" y="349.3" width="0.8" height="2" fill="#fff"/><rect x="628.0" y="349.3" width="0.8" height="2" fill="#fff"/>
<line x1="656" y1="338.5" x2="668" y2="350.3" stroke="#000" stroke-width="3.0"/>
<circle cx="668" cy="350.3" r="3.9" fill="#000" stroke="#000" stroke-width="1.8"/>
<rect x="666.4" y="349.3" width="0.8" height="2" fill="#fff"/><rect x="668.6" y="349.3" width="0.8" height="2" fill="#fff"/>
<path d="M740.0,338.5 L740.0,343.5 A3.5,3.5 0 0 0 747.0,343.5 L747.0,338.5" fill="none" stroke="#000" stroke-width="1.5"/>
<line x1="743.5" y1="339" x2="743.5" y2="346" stroke="#000" stroke-width="1.0"/>
<path d="M870.5,338.5 L870.5,343.5 A3.5,3.5 0 0 0 877.5,343.5 L877.5,338.5" fill="none" stroke="#000" stroke-width="1.5"/>
<line x1="874" y1="339" x2="874" y2="346" stroke="#000" stroke-width="1.0"/>
<path d="M900,338.5 L900,350.5 A3.7,3.7 0 0 0 907.4,350.5 L907.4,338.5" fill="none" stroke="#000" stroke-width="1.6"/>
<circle cx="903.7" cy="351" r="2.4" fill="#000"/>
<circle cx="843.5" cy="328.8" r="0.9" fill="#000"/>
<circle cx="847" cy="327.3" r="0.9" fill="#000"/>
<circle cx="871" cy="323" r="0.9" fill="#000"/>
</svg>
</body></html>
